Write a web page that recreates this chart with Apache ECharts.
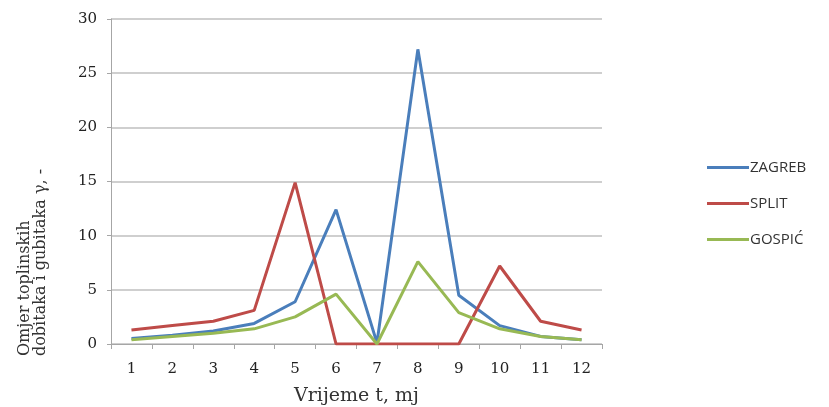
<!DOCTYPE html>
<html><head><meta charset="utf-8">
<script src="https://cdn.jsdelivr.net/npm/echarts@6/dist/echarts.min.js"></script>
<style>html,body{margin:0;padding:0;background:#fff}#c{width:829px;height:407px}</style>
</head><body><div id="c"></div>
<script>
var months = ['1','2','3','4','5','6','7','8','9','10','11','12'];
var zagreb = [0.5, 0.8, 1.2, 1.9, 3.9, 12.4, 0.1, 27.2, 4.5, 1.7, 0.7, 0.4];
var split  = [1.3, 1.7, 2.1, 3.1, 14.9, 0, 0, 0, 0, 7.2, 2.1, 1.3];
var gospic = [0.4, 0.7, 1.0, 1.4, 2.5, 4.6, 0, 7.6, 2.9, 1.4, 0.7, 0.4];
var seriesNames = ['ZAGREB', 'SPLIT', 'GOSPIĆ'];
var yTitle1 = 'Omjer toplinskih';
var yTitle2 = 'dobitaka i gubitaka γ, -';
var xTitle = 'Vrijeme t, mj';

var colors = ['#4A7EBB', '#BE4B48', '#98B954'];
var serif = '"DejaVu Serif", "Liberation Serif", serif';
var chart = echarts.init(document.getElementById('c'));
function mk(name, data, i) {
  return { name: name, type: 'line', data: data, symbol: 'none', showSymbol: false,
    lineStyle: { color: colors[i], width: 3 }, itemStyle: { color: colors[i] } };
}
chart.setOption({
  animation: false,
  grid: { left: 111, right: 227, top: 19, bottom: 63, outerBoundsMode: 'none', containLabel: false },
  xAxis: {
    type: 'category', data: months, boundaryGap: true,
    axisLine: { lineStyle: { color: '#a6a6a6', width: 1 } },
    axisTick: { show: true, length: 5, lineStyle: { color: '#a6a6a6' } },
    axisLabel: { color: '#222', fontFamily: serif, fontSize: 15, margin: 18 },
    name: xTitle, nameLocation: 'middle', nameGap: 43,
    nameTextStyle: { color: '#333', fontFamily: serif, fontSize: 19 }
  },
  yAxis: {
    type: 'value', min: 0, max: 30, interval: 5,
    axisLine: { show: true, lineStyle: { color: '#a6a6a6' } },
    axisTick: { show: true, length: 4, lineStyle: { color: '#a6a6a6' } },
    splitLine: { lineStyle: { color: '#bfbfbf', width: 1.5 } },
    axisLabel: { color: '#222', fontFamily: serif, fontSize: 15, margin: 14 }
  },
  legend: {
    orient: 'vertical', left: 702, top: 155, itemWidth: 42, itemHeight: 3, itemGap: 21,
    icon: 'rect',
    textStyle: { color: '#333', fontFamily: '"Open Sans", "Liberation Sans", sans-serif', fontSize: 15, padding: [0,0,0,-4] },
    data: seriesNames
  },
  graphic: [
    { type: 'text', rotation: Math.PI / 2, x: 17, y: 356,
      style: { text: yTitle1, fill: '#333', font: '16px ' + serif, textAlign: 'left', textVerticalAlign: 'top' } },
    { type: 'text', rotation: Math.PI / 2, x: 33, y: 356,
      style: { text: yTitle2, fill: '#333', font: '16px ' + serif, textAlign: 'left', textVerticalAlign: 'top' } }
  ],
  series: [mk(seriesNames[0], zagreb, 0), mk(seriesNames[1], split, 1), mk(seriesNames[2], gospic, 2)]
});
</script></body></html>
